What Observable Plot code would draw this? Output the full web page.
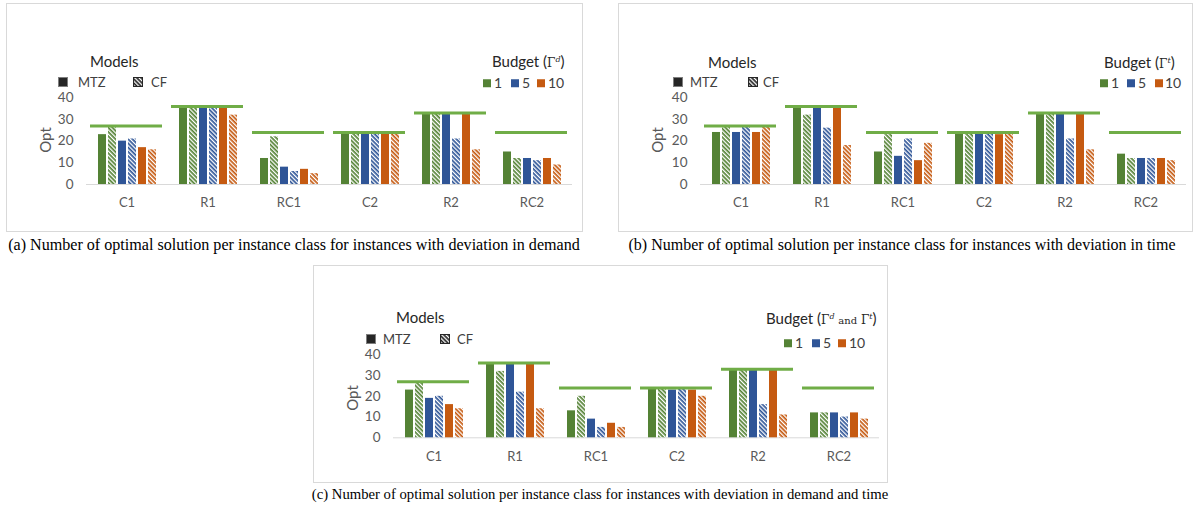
<!DOCTYPE html>
<html>
<head>
<meta charset="utf-8">
<script src="https://cdn.jsdelivr.net/npm/d3@7"></script>
<script src="https://cdn.jsdelivr.net/npm/@observablehq/plot@0.6"></script>
<style>
  body { margin: 0; background: #fff; }
  #fig { position: relative; width: 1195px; height: 506px; overflow: hidden; font-family: Lato, "Open Sans", sans-serif; }
  .box { position: absolute; border: 1px solid #d9d9d9; box-sizing: border-box; }
  .t { position: absolute; white-space: nowrap; line-height: 1; transform: translateY(-50%); }
  .title { font-size: 15px; color: #262626; }
  .leg { font-size: 13px; color: #404040; }
  .sq { position: absolute; transform: translateY(-50%); box-sizing: border-box; line-height: 0; }
  .sq svg { display: block; }
  .cap { position: absolute; white-space: nowrap; font-family: "Liberation Serif", "Times New Roman", serif; color: #000; transform: translate(-50%, -50%); line-height: 1; }
  .gam { font-family: "DejaVu Serif", serif; font-size: 12px; }
  .gam sup { font-size: 8px; font-style: italic; vertical-align: 5px; }
  .and { font-size: 10px; }
  .plot { position: absolute; }
</style>
</head>
<body>
<svg width="0" height="0" style="position:absolute">
  <defs>
    <pattern id="hatch-green" patternUnits="userSpaceOnUse" width="3" height="3" patternTransform="rotate(45)">
      <rect width="3" height="3" fill="#fff"/><rect width="3" height="1.7" fill="#548235"/>
    </pattern>
    <pattern id="hatch-blue" patternUnits="userSpaceOnUse" width="3" height="3" patternTransform="rotate(45)">
      <rect width="3" height="3" fill="#fff"/><rect width="3" height="1.7" fill="#2f5597"/>
    </pattern>
    <pattern id="hatch-orange" patternUnits="userSpaceOnUse" width="3" height="3" patternTransform="rotate(45)">
      <rect width="3" height="3" fill="#fff"/><rect width="3" height="1.7" fill="#c55a11"/>
    </pattern>
    <pattern id="hatch-black" patternUnits="userSpaceOnUse" width="3" height="3" patternTransform="rotate(45)">
      <rect width="3" height="3" fill="#fff"/><rect width="3" height="1.7" fill="#262626"/>
    </pattern>
  </defs>
</svg>
<div id="fig"></div>
<script>
// Instance classes and number of instances in each class
const classes = ["C1", "R1", "RC1", "C2", "R2", "RC2"];
const totals = [27, 36, 24, 24, 33, 24];
const budgets = ["1", "5", "10"];
const models = ["MTZ", "CF"];
const yTicks = [0, 10, 20, 30, 40];

// (a) deviation in demand
const demandB1MTZ = [23, 36, 12, 24, 33, 15];
const demandB1CF = [27, 36, 22, 24, 33, 12];
const demandB5MTZ = [20, 36, 8, 24, 33, 12];
const demandB5CF = [21, 36, 6, 24, 21, 11];
const demandB10MTZ = [17, 36, 7, 24, 33, 12];
const demandB10CF = [16, 32, 5, 24, 16, 9];

// (b) deviation in time
const timeB1MTZ = [24, 36, 15, 24, 33, 14];
const timeB1CF = [27, 32, 23, 24, 33, 12];
const timeB5MTZ = [24, 36, 13, 24, 33, 12];
const timeB5CF = [27, 26, 21, 24, 21, 12];
const timeB10MTZ = [24, 36, 11, 23, 33, 12];
const timeB10CF = [27, 18, 19, 24, 16, 11];

// (c) deviation in demand and time
const bothB1MTZ = [23, 36, 13, 24, 33, 12];
const bothB1CF = [27, 32, 20, 24, 33, 12];
const bothB5MTZ = [19, 36, 9, 23, 33, 12];
const bothB5CF = [20, 22, 5, 24, 16, 10];
const bothB10MTZ = [16, 36, 7, 23, 33, 12];
const bothB10CF = [14, 14, 5, 20, 11, 9];

const budgetColor = {"1": "#548235", "5": "#2f5597", "10": "#c55a11"};
const budgetHatch = {"1": "url(#hatch-green)", "5": "url(#hatch-blue)", "10": "url(#hatch-orange)"};
const totalColor = "#70ad47";

const fig = document.getElementById("fig");

function el(tag, cls, style, html) {
  const e = document.createElement(tag);
  if (cls) e.className = cls;
  Object.assign(e.style, style);
  if (html != null) e.innerHTML = html;
  fig.appendChild(e);
  return e;
}

function panel(cfg) {
  const [bl, bt, br, bb] = cfg.box;
  el("div", "box", {left: bl + "px", top: bt + "px", width: (br - bl) + "px", height: (bb - bt) + "px"});

  const seriesKeys = [];
  const rows = [];
  budgets.forEach(b => models.forEach(m => {
    const key = b + "-" + m;
    seriesKeys.push(key);
    cfg.values[b][m].forEach((v, i) => rows.push({cls: classes[i], key, budget: b, model: m, value: v}));
  }));
  const totalRows = classes.map((c, i) => ({cls: c, total: totals[i]}));

  const barMarks = seriesKeys.map(key => {
    const [b, m] = key.split("-");
    return Plot.barY(rows.filter(d => d.key === key), {
      fx: "cls", x: "key", y: "value",
      fill: m === "MTZ" ? budgetColor[b] : budgetHatch[b]
    });
  });

  const W = br - bl, H = bb - bt;
  const chart = Plot.plot({
    width: W, height: H,
    marginLeft: cfg.x0 - bl, marginRight: br - cfg.x1,
    marginTop: cfg.yTop - bt, marginBottom: bb - cfg.yBase,
    style: {fontFamily: "Lato, 'Open Sans', sans-serif", fontSize: "13px", color: "#595959", background: "transparent", overflow: "visible"},
    fx: {domain: classes, padding: 0, label: null, tickSize: 0, tickPadding: cfg.fxPad},
    x: {domain: seriesKeys, paddingInner: 0.22, paddingOuter: 0.9, axis: null},
    y: {domain: [0, 40], ticks: yTicks, tickSize: 0, tickPadding: 13, label: null},
    marks: [
      Plot.ruleY([0], {stroke: "#d9d9d9", strokeWidth: 1}),
      ...barMarks,
      Plot.ruleY(totalRows, {fx: "cls", y: "total", stroke: totalColor, strokeWidth: 3, insetLeft: 4, insetRight: 5})
    ]
  });
  chart.classList.add("plot");
  chart.style.left = bl + "px";
  chart.style.top = bt + "px";
  chart.querySelectorAll("text").forEach(t => {
    if (/^\d+$/.test(t.textContent)) t.setAttribute("font-size", "13.5");
  });
  fig.appendChild(chart);

  // y axis title
  el("div", "t", {left: cfg.opt[0] + "px", top: cfg.opt[1] + "px", fontSize: "15px", color: "#595959",
    transform: "translate(-50%, -50%) rotate(-90deg)"}, "Opt");

  // model legend
  el("div", "t title", {left: cfg.models[0] + "px", top: cfg.models[1] + "px"}, "Models");
  el("div", "sq", {left: cfg.mtz[0] + "px", top: cfg.mtz[1] + "px", width: "10px", height: "10px", background: "#262626", border: "1px solid #7f7f7f"});
  el("div", "t leg", {left: cfg.mtz[2] + "px", top: cfg.mtz[1] + "px"}, "MTZ");
  el("div", "sq", {left: cfg.cf[0] + "px", top: cfg.mtz[1] + "px", width: "10px", height: "10px"},
    '<svg width="10" height="10"><rect x="0.5" y="0.5" width="9" height="9" fill="url(#hatch-black)" stroke="#262626"/></svg>');
  el("div", "t leg", {left: cfg.cf[1] + "px", top: cfg.mtz[1] + "px"}, "CF");

  // budget legend
  el("div", "t title", {left: cfg.budget[0] + "px", top: cfg.budget[1] + "px"}, cfg.budgetTitle);
  budgets.forEach((b, i) => {
    el("div", "sq", {left: cfg.bsq[i] + "px", top: cfg.by + "px", width: "7.5px", height: "7.5px", background: budgetColor[b]});
    el("div", "t leg", {left: cfg.btx[i] + "px", top: cfg.by + "px", fontSize: "14px"}, b);
  });

  el("div", "cap", {left: cfg.caption[0] + "px", top: cfg.caption[1] + "px", fontSize: cfg.caption[3] + "px"}, cfg.caption[2]);
}

panel({
  box: [6, 3, 583, 232], x0: 86, x1: 572, yTop: 97.3, yBase: 184, fxPad: 13,
  values: {"1": {MTZ: demandB1MTZ, CF: demandB1CF}, "5": {MTZ: demandB5MTZ, CF: demandB5CF}, "10": {MTZ: demandB10MTZ, CF: demandB10CF}},
  opt: [45, 140], models: [90, 61], mtz: [58, 82, 78], cf: [133, 151],
  budget: [492, 61], budgetTitle: 'Budget (<span class="gam">Γ<sup>d</sup></span>)',
  bsq: [483, 511, 537], btx: [494, 522, 548], by: 83,
  caption: [294, 245, "(a) Number of optimal solution per instance class for instances with deviation in demand", 16.1]
});

panel({
  box: [618, 3, 1193, 232], x0: 699, x1: 1186, yTop: 97.3, yBase: 184, fxPad: 13,
  values: {"1": {MTZ: timeB1MTZ, CF: timeB1CF}, "5": {MTZ: timeB5MTZ, CF: timeB5CF}, "10": {MTZ: timeB10MTZ, CF: timeB10CF}},
  opt: [657, 140], models: [708, 62], mtz: [673, 82, 690], cf: [748, 763],
  budget: [1104, 62], budgetTitle: 'Budget (<span class="gam">Γ<sup>t</sup></span>)',
  bsq: [1100, 1127, 1155], btx: [1111, 1138, 1165], by: 83,
  caption: [902, 245, "(b) Number of optimal solution per instance class for instances with deviation in time", 16.0]
});

panel({
  box: [313, 265, 888, 483], x0: 393, x1: 879, yTop: 354.3, yBase: 437.3, fxPad: 13.5,
  values: {"1": {MTZ: bothB1MTZ, CF: bothB1CF}, "5": {MTZ: bothB5MTZ, CF: bothB5CF}, "10": {MTZ: bothB10MTZ, CF: bothB10CF}},
  opt: [352, 398], models: [396, 317], mtz: [366, 339, 383], cf: [440, 457],
  budget: [766, 318], budgetTitle: 'Budget (<span class="gam">Γ<sup>d</sup> <span class="and">and</span> Γ<sup>t</sup></span>)',
  bsq: [784, 812, 838], btx: [795, 823, 849], by: 343,
  caption: [600, 494, "(c) Number of optimal solution per instance class for instances with deviation in demand and time", 14.7]
});
</script>
</body>
</html>
